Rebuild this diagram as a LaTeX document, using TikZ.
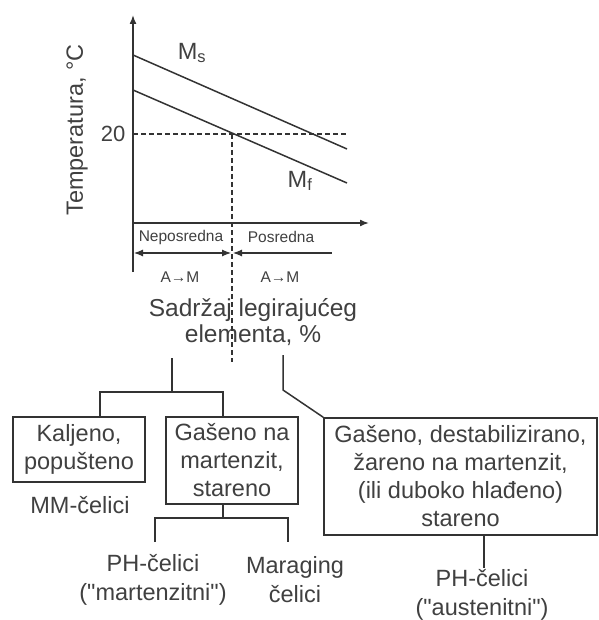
\documentclass[tikz,border=0pt]{standalone}
\usepackage{fontspec}
\setmainfont{Liberation Sans}
\usetikzlibrary{arrows.meta, positioning}

\tikzset{
    ln/.style={draw=black!80, line width=1.5pt},
    box/.style={ln, fill=white, align=center, inner sep=0pt, text=black!75,
        font=\fontsize{23.5}{28}\selectfont},
    lbl/.style={align=center, text=black!75, font=\fontsize{23.5}{29}\selectfont},
    small/.style={text=black!75, font=\fontsize{15.5}{17}\selectfont},
    axarrow/.style={ln, -{Latex[length=9pt,width=7pt]}},
    dsh/.style={ln, line width=1.1pt, dash pattern=on 5pt off 3pt},
}

\begin{document}
\begin{tikzpicture}[x=1pt, y=-1pt]
    \useasboundingbox (0,0) rectangle (598,620);

    % axes
    \coordinate (o) at (133,223);
    \coordinate (ytop) at (133,15);
    \coordinate (ybot) at (133,272);
    \coordinate (xend) at (369,223);
    \draw[axarrow] (ybot) -- (ytop);
    \draw[axarrow] (o) -- (xend);
    \node[lbl, rotate=90] (temp) at (77,130) {Temperatura, °C};

    % Ms and Mf lines
    \coordinate (ms1) at (133,55);
    \coordinate (ms2) at (347,149);
    \coordinate (mf1) at (133,90);
    \coordinate (mf2) at (347,183);
    \draw[ln] (ms1) -- (ms2);
    \draw[ln] (mf1) -- (mf2);
    \node[lbl] (mslbl) at (192,53) {M\textsubscript{s}};
    \node[lbl] (mflbl) at (300,181) {M\textsubscript{f}};

    % 20 deg level
    \coordinate (t20) at (133,134);
    \coordinate (t20e) at (348,134);
    \coordinate (cross) at (232,134);
    \coordinate (crossb) at (232,362);
    \node[lbl, anchor=east, font=\fontsize{22}{24}\selectfont] (l20) at (129,134) {20};
    \draw[dsh] (t20) -- (t20e);

    % regions
    \node[small] (nep) at (181,237) {Neposredna};
    \node[small] (pos) at (281,237) {Posredna};
    \coordinate (ar1) at (134,253);
    \coordinate (ar2) at (231,253);
    \coordinate (ar3) at (233,253);
    \coordinate (ar4) at (332,253);
    \draw[ln, line width=1.1pt, {Latex[length=9pt,width=7pt]}-{Latex[length=9pt,width=7pt]}] (ar1) -- (ar2);
    \draw[ln, line width=1.1pt, {Latex[length=9pt,width=7pt]}-] (ar3) -- (ar4);
    \node[small] (am1) at (180,277) {A→M};
    \node[small] (am2) at (280,277) {A→M};
    \node[lbl, font=\fontsize{24.5}{26}\selectfont] (xlbl) at (253,322) {Sadržaj legirajućeg\\elementa, \%};
    \draw[dsh] (cross) -- (crossb);

    % boxes
    \node[box, minimum width=132pt, minimum height=65pt] (kal) at (79,449.5) {Kaljeno,\\popušteno};
    \node[lbl] (mm) at (80,505) {MM-čelici};
    \node[box, minimum width=132pt, minimum height=87pt] (gas) at (232,460.5) {Gašeno na\\martenzit,\\stareno};
    \node[box, minimum width=273pt, minimum height=117pt] (des) at (460.5,476.5)
        {Gašeno, destabilizirano,\\žareno na martenzit,\\(ili duboko hlađeno)\\stareno};

    % tree, left
    \coordinate (lt) at (172,358);
    \coordinate (ls) at (172,392);
    \draw[ln] (lt) -- (ls);
    \draw[ln] ([xshift=21pt]kal.north) |- (ls) -| ([xshift=-9pt]gas.north);
    \coordinate (gs) at ([xshift=-9pt, yshift=-13pt]gas.south);
    \draw[ln] ([xshift=-9pt]gas.south) -- (gs);
    \node[lbl] (phm) at (153,580) {PH-čelici\\(\textquotedbl martenzitni\textquotedbl)};
    \node[lbl] (mar) at (295,580) {Maraging\\čelici};
    \coordinate (phmt) at (155,542);
    \coordinate (mart) at (288,542);
    \draw[ln] (phmt) |- (gs) -| (mart);

    % tree, right
    \coordinate (rt) at (283,355);
    \coordinate (rs) at (283,390);
    \draw[ln] (rt) -- (rs) -- (des.north west);
    \node[lbl] (pha) at (482,595) {PH-čelici\\(\textquotedbl austenitni\textquotedbl)};
    \draw[ln] ([xshift=23.5pt]des.south) -- ([xshift=2pt, yshift=-2pt]pha.north);
\end{tikzpicture}
\end{document}
